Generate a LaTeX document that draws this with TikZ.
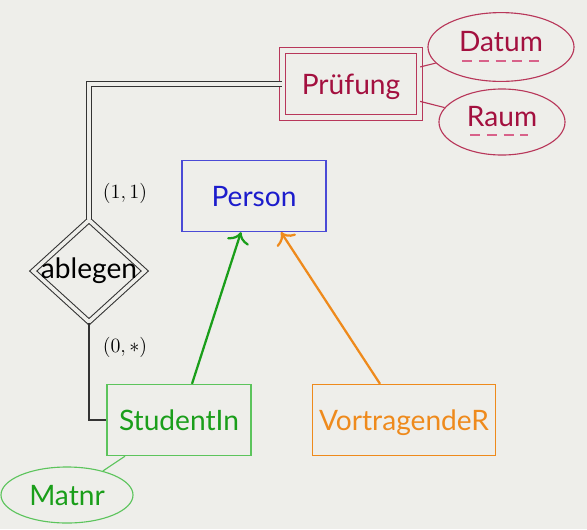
\documentclass[tikz,border=0pt]{standalone}
\usepackage{fontspec}
\setmainfont{Lato}
\usetikzlibrary{shapes.geometric,calc,arrows.meta}

\definecolor{bgcol}{HTML}{EEEEEA}
\definecolor{weakcol}{HTML}{A3103F}
\definecolor{weakline}{HTML}{B8375A}
\definecolor{keycol}{HTML}{D8628A}
\definecolor{perscol}{HTML}{1C1CCC}
\definecolor{persline}{HTML}{4A4AD6}
\definecolor{studcol}{HTML}{1A9E1A}
\definecolor{studline}{HTML}{5CC45C}
\definecolor{vortcol}{HTML}{EE8A1C}
\definecolor{relcol}{HTML}{333333}

\begin{document}
\begin{tikzpicture}[x=0.025cm, y=-0.025cm, >={To[scale=1.5]},
    font=\fontsize{20}{24}\selectfont,
    entity/.style={draw, rectangle, line width=0.8pt, inner sep=0pt,
      minimum width=3.6cm, minimum height=1.78cm, text height=15.5pt, text depth=0pt},
    weakentity/.style={entity, double=bgcol, double distance=3.4pt,
      line width=0.75pt, minimum width=3.43cm, minimum height=1.68cm},
    attrib/.style={draw, ellipse, line width=0.8pt, inner sep=0pt,
      text height=15pt, text depth=0pt},
    keyattrib/.style={attrib, text depth=8.5pt},
    relship/.style={draw=relcol, diamond, double=bgcol, double distance=2.6pt,
      line width=0.75pt, inner sep=0pt, minimum width=2.8cm, minimum height=2.55cm},
    card/.style={font=\fontsize{15}{18}\selectfont, text=black},
    keyline/.style={keycol, line width=0.8pt, dash pattern=on 0.25cm off 0.17cm}]

  % background and page size
  \fill[bgcol] (0,0) rectangle (587,529);
  \useasboundingbox (0,0) rectangle (587,529);

  % weak entity with its attributes
  \node[weakentity, draw=weakline, text=weakcol] (pruefung) at (351,84) {Prüfung};
  \node[keyattrib, draw=weakline, text=weakcol, minimum width=3.65cm, minimum height=1.72cm]
    (datum) at (501,47) {Datum};
  \node[keyattrib, draw=weakline, text=weakcol, minimum width=3.15cm, minimum height=1.65cm]
    (raum) at (502,122) {Raum};
  \draw[weakline, line width=0.8pt] (pruefung) -- (datum);
  \draw[weakline, line width=0.8pt] (pruefung) -- (raum);
  \draw[keyline] ($(datum.center)+(-39,14)$) -- ($(datum.center)+(41,14)$);
  \draw[keyline] ($(raum.center)+(-32,13)$) -- ($(raum.center)+(26,13)$);

  % generalisation
  \node[entity, draw=persline, text=perscol] (person) at (254,196) {Person};
  \node[entity, draw=studline, text=studcol] (student) at (179,420) {StudentIn};
  \node[entity, draw=vortcol, text=vortcol, minimum width=4.58cm] (vortr) at (404,420) {VortragendeR};
  \node[attrib, draw=studline, text=studcol, minimum width=3.3cm, minimum height=1.4cm]
    (matnr) at (67,495) {Matnr};
  \draw[studline, line width=0.8pt] (matnr) -- (student);
  \draw[->, studcol, line width=1.6pt] ($(student.north)+(13,0)$) -- ($(person.south)+(-13,0)$);
  \draw[->, vortcol, line width=1.6pt] ($(vortr.north)+(-24,0)$) -- ($(person.south)+(27,0)$);

  % relationship
  \node[relship, label=center:{ablegen}] (ablegen) at (89,271) {};
  \draw[relcol, double=bgcol, double distance=3pt, line width=0.85pt]
    (ablegen.north) |- (pruefung.west);
  \draw[relcol, line width=0.85pt] (ablegen.south) |- (student.west);
  \node[card] (cardtop) at (125,193) {$(1,1)$};
  \node[card] (cardbot) at (125,347) {$(0,*)$};
\end{tikzpicture}
\end{document}
